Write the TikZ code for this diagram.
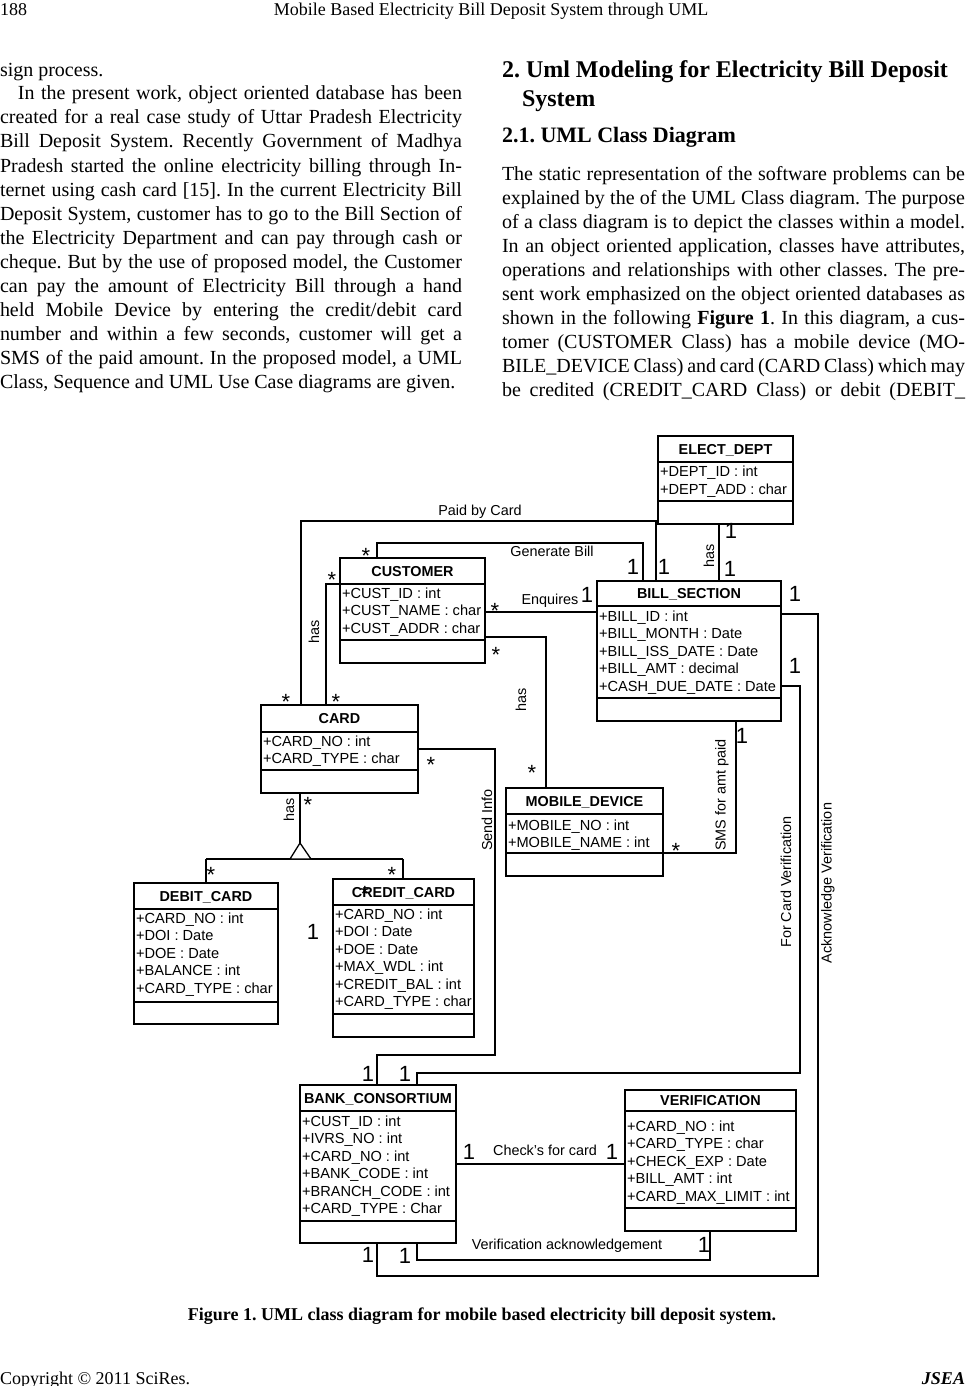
\documentclass[tikz,border=0pt]{standalone}
\usepackage{fontspec}
\setmainfont{Liberation Serif}
\newfontfamily\arialfont{Liberation Sans}
\usetikzlibrary{fit,calc}
\frenchspacing

\begin{document}
\begin{tikzpicture}[x=0.5pt, y=-0.5pt, line width=0.65pt,
  every node/.style={inner sep=0pt, outer sep=0pt},
  cls/.style={draw, line width=0.9pt, rectangle},
  sepline/.style={line width=0.9pt},
  ctitle/.style={anchor=base, font=\arialfont\bfseries\fontsize{7.2}{8}\selectfont},
  attr/.style={anchor=base west, font=\arialfont\fontsize{7.3}{8}\selectfont},
  lbl/.style={font=\arialfont\fontsize{7.2}{8}\selectfont},
  multone/.style={font=\arialfont\fontsize{11}{12}\selectfont},
  multmany/.style={font=\arialfont\fontsize{11}{12}\selectfont},
  bodytxt/.style={anchor=base west, font=\fontsize{10}{12}\selectfont},
  hdr/.style={font=\fontsize{9}{11}\selectfont}]
\useasboundingbox (0,0) rectangle (965,1386);
\fill[white] (0,0) rectangle (965,1386);

% page text
\node[hdr, anchor=base west] (pgno) at (0,16) {188};
\node[hdr, anchor=base] (runhead) at (491,16) {Mobile Based Electricity Bill Deposit System through UML};
\node[bodytxt] (lt0) at (0,76) {sign process.};
\foreach \txt [count=\i] in {{\hspace*{9pt}In the present work, object oriented database has been},
  {created for a real case study of Uttar Pradesh Electricity},
  {Bill Deposit System. Recently Government of Madhya},
  {Pradesh started the online electricity billing through In-},
  {ternet using cash card [15]. In the current Electricity Bill},
  {Deposit System, customer has to go to the Bill Section of},
  {the Electricity Department and can pay through cash or},
  {cheque. But by the use of proposed model, the Customer},
  {can pay the amount of Electricity Bill through a hand},
  {held Mobile Device by entering the credit/debit card},
  {number and within a few seconds, customer will get a},
  {SMS of the paid amount. In the proposed model, a UML}}
  \node[bodytxt] (lt\i) at (0,{76+24*\i}) {\makebox[231pt][s]{\txt}};
\node[bodytxt] (lt13) at (0,{76+24*13}) {Class, Sequence and UML Use Case diagrams are given.};

\node[anchor=base west, font=\bfseries\fontsize{12}{14}\selectfont] (rh1) at (502,78) {2. Uml Modeling for Electricity Bill Deposit};
\node[anchor=base west, font=\bfseries\fontsize{12}{14}\selectfont] (rh2) at (522,106) {System};
\node[anchor=base west, font=\bfseries\fontsize{11}{13}\selectfont] (rh3) at (502,142) {2.1. UML Class Diagram};
\foreach \txt [count=\i] in {{The static representation of the software problems can be},
  {explained by the of the UML Class diagram. The purpose},
  {of a class diagram is to depict the classes within a model.},
  {In an object oriented application, classes have attributes,},
  {operations and relationships with other classes. The pre-},
  {sent work emphasized on the object oriented databases as},
  {shown in the following \textbf{Figure 1}. In this diagram, a cus-},
  {tomer (CUSTOMER Class) has a mobile device (MO-},
  {BILE\_DEVICE Class) and card (CARD Class) which may},
  {be credited (CREDIT\_CARD Class) or debit (DEBIT\_}}
  \node[bodytxt] (rt\i) at (502,{180+24*(\i-1)}) {\makebox[231.5pt][s]{\txt}};

\node[anchor=base, font=\bfseries\fontsize{9}{11}\selectfont] (figcap) at (482,1320) {Figure 1. UML class diagram for mobile based electricity bill deposit system.};
\node[hdr, anchor=base west] (copyr) at (0,1384) {Copyright © 2011 SciRes.};
\node[hdr, anchor=base east, font=\bfseries\itshape\fontsize{9}{11}\selectfont] (jsea) at (965,1384) {JSEA};

% ELECT_DEPT
\node[cls, fit={(658,436) (793,524)}] (elect) {};
\draw[sepline] (elect.west |- 0,462) -- (elect.east |- 0,462) (elect.west |- 0,501) -- (elect.east |- 0,501);
\node[ctitle] (electT) at (725.5,454) {ELECT\_DEPT};
\foreach \att [count=\i] in {+DEPT\_ID : int, +DEPT\_ADD : char}
  \node[attr] (electA\i) at (660,{476+18*(\i-1)}) {\att};

% CUSTOMER
\node[cls, fit={(340,558) (485,663)}] (cust) {};
\draw[sepline] (cust.west |- 0,584) -- (cust.east |- 0,584) (cust.west |- 0,640) -- (cust.east |- 0,640);
\node[ctitle] (custT) at (412.5,576) {CUSTOMER};
\foreach \att [count=\i] in {+CUST\_ID : int, +CUST\_NAME : char, +CUST\_ADDR : char}
  \node[attr] (custA\i) at (342,{598+17.5*(\i-1)}) {\att};

% BILL_SECTION
\node[cls, fit={(597,581) (781,721)}] (bill) {};
\draw[sepline] (bill.west |- 0,606) -- (bill.east |- 0,606) (bill.west |- 0,698) -- (bill.east |- 0,698);
\node[ctitle] (billT) at (689,598.5) {BILL\_SECTION};
\foreach \att [count=\i] in {+BILL\_ID : int, +BILL\_MONTH : Date, +BILL\_ISS\_DATE : Date, +BILL\_AMT : decimal, +CASH\_DUE\_DATE : Date}
  \node[attr] (billA\i) at (599,{621+17.5*(\i-1)}) {\att};

% CARD
\node[cls, fit={(261,705) (418,793)}] (card) {};
\draw[sepline] (card.west |- 0,732) -- (card.east |- 0,732) (card.west |- 0,770) -- (card.east |- 0,770);
\node[ctitle] (cardT) at (339.5,723.5) {CARD};
\foreach \att [count=\i] in {+CARD\_NO : int, +CARD\_TYPE : char}
  \node[attr] (cardA\i) at (263,{746+17.5*(\i-1)}) {\att};

% DEBIT_CARD
\node[cls, fit={(134,883) (278,1024)}] (debit) {};
\draw[sepline] (debit.west |- 0,909) -- (debit.east |- 0,909) (debit.west |- 0,1002) -- (debit.east |- 0,1002);
\node[ctitle] (debitT) at (206,901) {DEBIT\_CARD};
\foreach \att [count=\i] in {+CARD\_NO : int, +DOI : Date, +DOE : Date, +BALANCE : int, +CARD\_TYPE : char}
  \node[attr] (debitA\i) at (136,{923+17.5*(\i-1)}) {\att};

% CREDIT_CARD
\node[cls, fit={(333,879) (474,1037)}] (credit) {};
\draw[sepline] (credit.west |- 0,905) -- (credit.east |- 0,905) (credit.west |- 0,1014) -- (credit.east |- 0,1014);
\node[ctitle] (creditT) at (403.5,897) {CREDIT\_CARD};
\foreach \att [count=\i] in {+CARD\_NO : int, +DOI : Date, +DOE : Date, +MAX\_WDL : int, +CREDIT\_BAL : int, +CARD\_TYPE : char}
  \node[attr] (creditA\i) at (335,{919+17.5*(\i-1)}) {\att};

% MOBILE_DEVICE
\node[cls, fit={(506,788) (663,876)}] (mob) {};
\draw[sepline] (mob.west |- 0,814) -- (mob.east |- 0,814) (mob.west |- 0,853) -- (mob.east |- 0,853);
\node[ctitle] (mobT) at (584.5,806) {MOBILE\_DEVICE};
\foreach \att [count=\i] in {+MOBILE\_NO : int, +MOBILE\_NAME : int}
  \node[attr] (mobA\i) at (508,{830+17*(\i-1)}) {\att};

% BANK_CONSORTIUM
\node[cls, fit={(300,1085) (456,1243)}] (bank) {};
\draw[sepline] (bank.west |- 0,1111) -- (bank.east |- 0,1111) (bank.west |- 0,1221) -- (bank.east |- 0,1221);
\node[ctitle] (bankT) at (378,1103) {BANK\_CONSORTIUM};
\foreach \att [count=\i] in {+CUST\_ID : int, +IVRS\_NO : int, +CARD\_NO : int, +BANK\_CODE : int, +BRANCH\_CODE : int, +CARD\_TYPE : Char}
  \node[attr] (bankA\i) at (302,{1126+17.5*(\i-1)}) {\att};

% VERIFICATION
\node[cls, fit={(625,1090) (796,1231)}] (verif) {};
\draw[sepline] (verif.west |- 0,1111) -- (verif.east |- 0,1111) (verif.west |- 0,1208) -- (verif.east |- 0,1208);
\node[ctitle] (verifT) at (710.5,1105.5) {VERIFICATION};
\foreach \att [count=\i] in {+CARD\_NO : int, +CARD\_TYPE : char, +CHECK\_EXP : Date, +BILL\_AMT : int, +CARD\_MAX\_LIMIT : int}
  \node[attr] (verifA\i) at (627,{1131+17.5*(\i-1)}) {\att};

% associations
\draw (card.north -| 301,0) |- (656,521) -- (bill.north -| 656,0);
\draw (cust.north -| 377,0) |- (643,543) -- (bill.north -| 643,0);
\draw (cust.west |- 0,584) -| (card.north -| 326,0);
\draw (cust.east |- 0,612) -- (bill.west |- 0,612);
\draw (cust.east |- 0,637) -| (mob.north -| 546,0);
\draw (elect.south -| 719,0) -- (bill.north -| 719,0);
\draw (mob.east |- 0,853) -| (bill.south -| 736,0);
\draw (card.east |- 0,749) -| (495,1055) -| (bank.north -| 377,0);
\draw (bill.east |- 0,686) -| (800,1073) -| (bank.north -| 417,0);
\draw (bill.east |- 0,614) -| (818,1276) -| (bank.south -| 377,0);
\draw (bank.east |- 0,1164) -- (verif.west |- 0,1164);
\draw (verif.south -| 710,0) |- (417,1260) -- (bank.south -| 417,0);

% generalisation
\coordinate (apex) at (300,843);
\draw (card.south -| apex) -- (apex);
\draw (206,859) -- (403,859);
\draw (debit.north -| 206,0) -- (206,859);
\draw (credit.north -| 403,0) -- (403,859);
\draw[fill=white] (apex) -- (290,859) -- (311,859) -- cycle;

% labels
\node[lbl] (lpaid) at (480,512) {Paid by Card};
\node[lbl] (lgen) at (552,551) {Generate Bill};
\node[lbl] (lenq) at (550,601) {Enquires};
\node[lbl] (lcheck) at (545,1150) {Check’s for card};
\node[lbl] (lvack) at (567,1246) {Verification acknowledgement};
\node[lbl, rotate=90] (lhas1) at (314,632) {has};
\node[lbl, rotate=90] (lhas2) at (521,700) {has};
\node[lbl, rotate=90] (lhas3) at (709,556) {has};
\node[lbl, rotate=90] (lhas4) at (289,810) {has};
\node[lbl, rotate=90] (lsms) at (722,795) {SMS for amt paid};
\node[lbl, rotate=90] (lsend) at (487,820) {Send Info};
\node[lbl, rotate=90] (lfcv) at (786,882) {For Card Verification};
\node[lbl, rotate=90] (lackv) at (828,883) {Acknowledge Verification};

% multiplicities
\foreach \p [count=\i] in {{664,567},{633,567},{731,531},{730,569},{587,595},{795,594},{795,666},{742,736},
  {313,932},{368,1074},{405,1074},{469,1152},{612,1152},{704,1245},{368,1255},{405,1256}}
  \node[multone] (one\i) at (\p) {1};
\foreach \p [count=\i] in {{366,556},{332,580},{495,611},{496,655},{286,702},{336,702},{431,765},
  {308,805},{532,773},{676,851},{211,875},{392,875},{365,894}}
  \node[multmany] (many\i) at (\p) {*};
\end{tikzpicture}
\end{document}
